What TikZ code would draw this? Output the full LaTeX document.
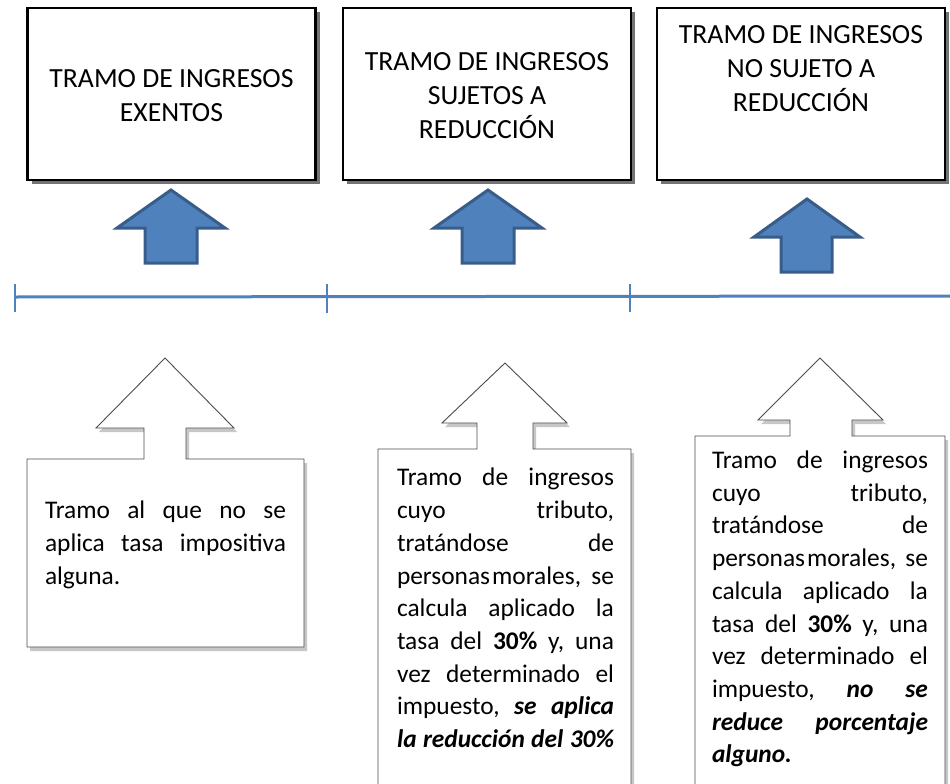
\documentclass[tikz,border=0pt]{standalone}
\usepackage{fontspec}
\setmainfont{Carlito}
\usetikzlibrary{shadows}
\definecolor{accent}{HTML}{4F81BD}
\definecolor{accentdark}{HTML}{385D8A}
\newcommand{\jrow}[2]{\leavevmode\hbox to #1{#2}}
\begin{document}
\begin{tikzpicture}[x=1pt,y=-1pt,
  topbox/.style={draw=black, line width=2.5pt, fill=white, minimum width=288pt, minimum height=172pt, inner sep=0pt,
    drop shadow={shadow xshift=4pt, shadow yshift=-4pt, fill=black!55, opacity=1}},
  toptext/.style={align=center, font=\fontsize{27.7}{34}\selectfont, inner sep=0pt},
  bluearrow/.style={fill=accent, draw=accentdark, line width=3pt, line join=miter},
  callout/.style={draw=black!70, line width=0.9pt, fill=white,
    drop shadow={shadow xshift=3pt, shadow yshift=-4pt, fill=black, opacity=0.22}},
  calltext/.style={align=left, font=\fontsize{25.4}{32.7}\selectfont, inner sep=0pt},
  timeline/.style={draw=accent, line width=3pt}]
\useasboundingbox (0,0) rectangle (950,784);
\clip (0,0) rectangle (950,784);

% top boxes
\node[topbox] (b1) at (171.5,94) {};
\node[topbox] (b2) at (487,94) {};
\node[topbox] (b3) at (801,94) {};
\node[toptext] (t1) at (171.5,96) {TRAMO DE INGRESOS\\EXENTOS};
\node[toptext] (t2) at (487,96) {TRAMO DE INGRESOS\\SUJETOS A\\REDUCCIÓN};
\node[toptext] (t3) at (801,69) {TRAMO DE INGRESOS\\NO SUJETO A\\REDUCCIÓN};

% blue arrows
\draw[bluearrow] (145,263) -- (145,228) -- (117,228) -- (171,190) -- (225,228) -- (197,228) -- (197,263) -- cycle;
\draw[bluearrow] (462,263) -- (462,228) -- (434,228) -- (488,190) -- (542,228) -- (514,228) -- (514,263) -- cycle;
\draw[bluearrow] (781,272) -- (781,237) -- (754,237) -- (807,199) -- (860,237) -- (832,237) -- (832,272) -- cycle;

% timeline
\coordinate (l0) at (15,297);
\coordinate (l1) at (950,296);
\draw[timeline] (l0) -- (l1);
\coordinate (k1a) at (15,284); \coordinate (k1b) at (15,312);
\coordinate (k2a) at (327,284); \coordinate (k2b) at (327,313);
\coordinate (k3a) at (630,284); \coordinate (k3b) at (630,312);
\draw[draw=accent, line width=2.5pt] (k1a) -- (k1b);
\draw[draw=accent, line width=2.5pt] (k2a) -- (k2b);
\draw[draw=accent, line width=2.5pt] (k3a) -- (k3b);

% callouts
\draw[callout] (27,459) -- (144,459) -- (144,428) -- (96,428) -- (165,358) -- (234,428) -- (186,428) -- (186,459) -- (304,459) -- (304,647) -- (27,647) -- cycle;
\draw[callout] (378,449) -- (477,449) -- (477,423) -- (442,423) -- (505,363) -- (567,423) -- (533,423) -- (533,449) -- (631,449) -- (631,800) -- (378,800) -- cycle;
\draw[callout] (695,436) -- (790,436) -- (790,420) -- (758,420) -- (820,358) -- (883,420) -- (852,420) -- (852,436) -- (945,436) -- (945,800) -- (695,800) -- cycle;

\node[calltext, text width=241pt] (c1) at (165.5,545) {\jrow{241pt}{Tramo\hfill al\hfill que\hfill no\hfill se}\\
\jrow{241pt}{aplica\hfill tasa\hfill impositiva}\\
alguna.};

\node[calltext, text width=217pt] (c2) at (505.5,608) {\jrow{217pt}{Tramo\hfill de\hfill ingresos}\\
\jrow{217pt}{cuyo\hfill tributo,}\\
\jrow{217pt}{tratándose\hfill de}\\
\jrow{217pt}{personas\hspace{2pt}morales,\hfill se}\\
\jrow{217pt}{calcula\hfill aplicado\hfill la}\\
\jrow{217pt}{tasa\hfill del\hfill \textbf{30\%}\hfill y,\hfill una}\\
\jrow{217pt}{vez\hfill determinado\hfill el}\\
\jrow{217pt}{impuesto,\hfill \textbf{\textit{se}}\hfill \textbf{\textit{aplica}}}\\
\jrow{217pt}{\textbf{\textit{la\hfill reducción\hfill del\hfill 30\%}}}};

\node[calltext, text width=216pt] (c3) at (820,609) {\jrow{216pt}{Tramo\hfill de\hfill ingresos}\\
\jrow{216pt}{cuyo\hfill tributo,}\\
\jrow{216pt}{tratándose\hfill de}\\
\jrow{216pt}{personas\hspace{2pt}morales,\hfill se}\\
\jrow{216pt}{calcula\hfill aplicado\hfill la}\\
\jrow{216pt}{tasa\hfill del\hfill \textbf{30\%}\hfill y,\hfill una}\\
\jrow{216pt}{vez\hfill determinado\hfill el}\\
\jrow{216pt}{impuesto,\hfill \textbf{\textit{no}}\hfill \textbf{\textit{se}}}\\
\jrow{216pt}{\textbf{\textit{reduce}}\hfill \textbf{\textit{porcentaje}}}\\
\textbf{\textit{alguno.}}};
\end{tikzpicture}
\end{document}
